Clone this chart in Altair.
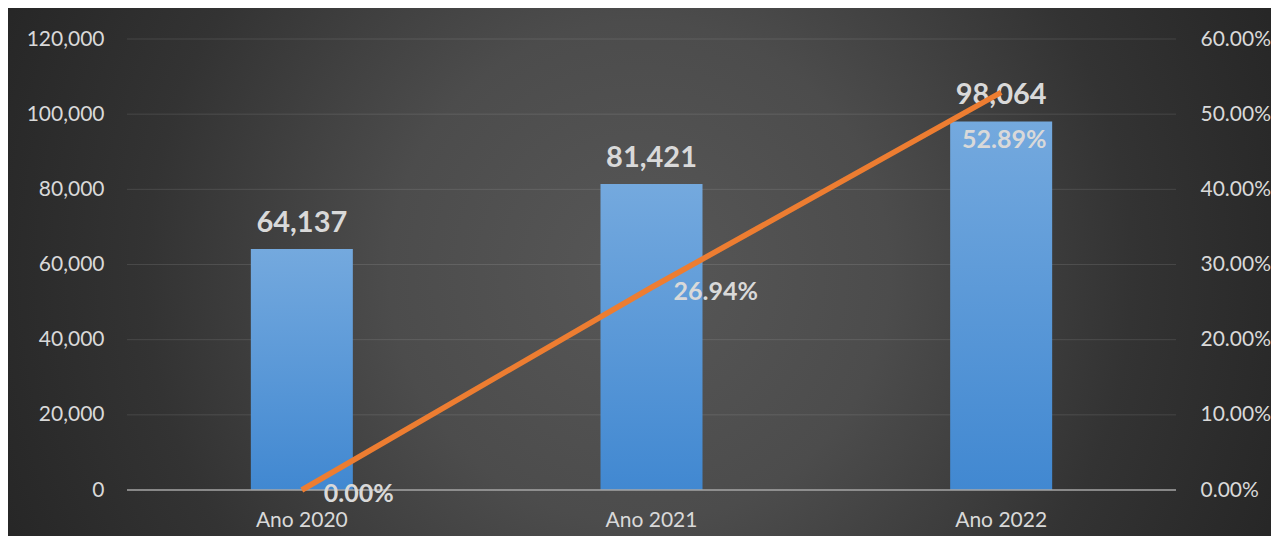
import altair as alt
import pandas as pd

# ---- data ----
anos = ["Ano 2020", "Ano 2021", "Ano 2022"]
valores = [64137, 81421, 98064]
crescimento = [0.0, 0.2694, 0.5289]
ticks_esq = [0, 20000, 40000, 60000, 80000, 100000, 120000]
ticks_dir = [0.0, 0.1, 0.2, 0.3, 0.4, 0.5, 0.6]

df = pd.DataFrame({"ano": anos, "valor": valores, "cresc": crescimento})
grid_df = pd.DataFrame({"tick": ticks_esq[1:]})
zero_df = pd.DataFrame({"tick": ticks_esq[:1]})
bg_df = pd.DataFrame({"k": [0]})

W, H = 1049, 451
PAD = {"left": 119, "top": 31, "right": 95, "bottom": 46}
TXT = "#D9D9D9"
FONT = "Lato"

bg_fill = {
    "gradient": "radial",
    "x1": 0.5, "y1": 0.5, "r1": 0,
    "x2": 0.5, "y2": 0.5, "r2": 0.55,
    "stops": [
        {"offset": 0.0, "color": "#575757"},
        {"offset": 0.36, "color": "#4c4c4c"},
        {"offset": 0.71, "color": "#333333"},
        {"offset": 0.91, "color": "#2a2a2a"},
        {"offset": 1.0, "color": "#262626"},
    ],
}
bar_fill = {
    "gradient": "linear", "x1": 0, "y1": 0, "x2": 0, "y2": 1,
    "stops": [
        {"offset": 0.0, "color": "#74A9DE"},
        {"offset": 1.0, "color": "#4188D1"},
    ],
}

x_enc = alt.X(
    "ano:N", sort=anos,
    scale=alt.Scale(paddingInner=0, paddingOuter=0),
    axis=alt.Axis(title=None, domain=False, ticks=False, labelFont=FONT,
                  labelFontSize=21, labelColor=TXT, labelPadding=19,
                  labelAngle=0, zindex=1),
)

left_scale = alt.Scale(domain=[0, 120000], nice=False)
left_axis = alt.Axis(title=None, values=ticks_esq, format=",d", grid=False,
                     domain=False, ticks=False, labelFont=FONT, labelFontSize=21,
                     labelColor=TXT, labelPadding=23, zindex=1)
right_scale = alt.Scale(domain=[0, 0.6], nice=False)
right_axis = alt.Axis(title=None, orient="right", values=ticks_dir, format=".2%",
                      grid=False, domain=False, ticks=False, labelFont=FONT,
                      labelFontSize=21, labelColor=TXT, labelPadding=24, zindex=1)

bg = alt.Chart(bg_df).mark_rect(fill=bg_fill, strokeWidth=0).encode(
    x=alt.value(-PAD["left"]), x2=alt.value(W + PAD["right"]),
    y=alt.value(-PAD["top"]), y2=alt.value(H + PAD["bottom"]),
)

grid = alt.Chart(grid_df).mark_rule(color="#ffffff", opacity=0.11, strokeWidth=1).encode(
    y=alt.Y("tick:Q", scale=left_scale, axis=left_axis)
)

bars = alt.Chart(df).mark_bar(size=102, fill=bar_fill).encode(
    x=x_enc,
    y=alt.Y("valor:Q", scale=left_scale, axis=left_axis),
)

bar_labels = alt.Chart(df).mark_text(
    font=FONT, fontSize=29, fontWeight="bold", color=TXT,
    baseline="alphabetic", dy=-17,
).encode(
    x=x_enc,
    y=alt.Y("valor:Q", scale=left_scale, axis=left_axis),
    text=alt.Text("valor:Q", format=","),
)

zero = alt.Chart(zero_df).mark_rule(color="#a6a6a6", strokeWidth=1.6).encode(
    y=alt.Y("tick:Q", scale=left_scale, axis=left_axis)
)

left = alt.layer(bg, grid, bars, bar_labels, zero)

line = alt.Chart(df).mark_line(color="#ED7D31", strokeWidth=5.5).encode(
    x=x_enc,
    y=alt.Y("cresc:Q", scale=right_scale, axis=right_axis),
)

pct_a = alt.Chart(df).transform_filter(
    alt.datum.ano != anos[2]
).mark_text(
    font=FONT, fontSize=25, fontWeight="bold", color=TXT,
    align="left", baseline="alphabetic", dx=22, dy=12,
).encode(
    x=x_enc,
    y=alt.Y("cresc:Q", scale=right_scale, axis=right_axis),
    text=alt.Text("cresc:Q", format=".2%"),
)

pct_b = alt.Chart(df).transform_filter(
    alt.datum.ano == anos[2]
).mark_text(
    font=FONT, fontSize=25, fontWeight="bold", color=TXT,
    align="center", baseline="alphabetic", dx=3, dy=56,
).encode(
    x=x_enc,
    y=alt.Y("cresc:Q", scale=right_scale, axis=right_axis),
    text=alt.Text("cresc:Q", format=".2%"),
)

right = alt.layer(line, pct_a, pct_b)

chart = alt.layer(left, right).resolve_scale(y="independent").properties(
    width=W, height=H, padding=PAD,
    autosize=alt.AutoSizeParams(type="none"),
    background="#262626",
).configure_view(stroke=None)

chart.save("out.html", embed_options={"renderer": "svg", "actions": False})
